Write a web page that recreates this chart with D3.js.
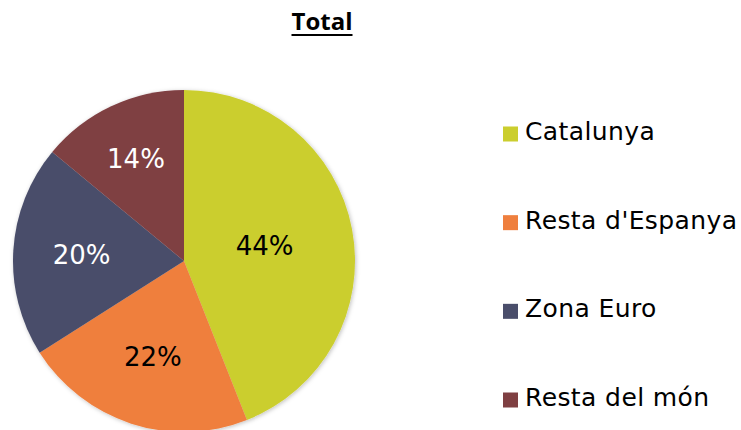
<!DOCTYPE html>
<html>
<head>
<meta charset="utf-8">
<script src="https://cdn.jsdelivr.net/npm/d3@7"></script>
<style>
  body { margin: 0; background: #fff; }
  svg { display: block; }
</style>
</head>
<body>
<div id="chart"></div>
<script>
// data
const categories = ["Catalunya", "Resta d'Espanya", "Zona Euro", "Resta del món"];
const values = [44, 22, 20, 14];
const colors = ["#CBCE2E", "#EF7F3E", "#4A4E6B", "#7F3F42"];
const labelColors = ["#000", "#000", "#fff", "#fff"];
// label distance from centre, as share of radius (excel "best fit")
const labelRadius = [0.48, 0.59, 0.6, 0.66];

const w = 741, h = 430;
const cx = 184, cy = 261, r = 171;

const svg = d3.select("#chart").append("svg")
    .attr("width", w)
    .attr("height", h);

// soft shadow under the pie
const defs = svg.append("defs");
const f = defs.append("filter").attr("id", "shadow")
    .attr("x", "-10%").attr("y", "-10%").attr("width", "120%").attr("height", "120%");
f.append("feDropShadow")
    .attr("dx", 1).attr("dy", 1).attr("stdDeviation", 2)
    .attr("flood-color", "#000").attr("flood-opacity", 0.25);

// title
const title = svg.append("text")
    .attr("x", 322).attr("y", 30)
    .attr("text-anchor", "middle")
    .attr("font-family", "'Open Sans', sans-serif")
    .attr("font-weight", "bold")
    .attr("font-size", 24)
    .attr("fill", "#000")
    .text("Total");
const tb = title.node().getBBox();
svg.append("rect")
    .attr("x", tb.x).attr("y", 34)
    .attr("width", tb.width).attr("height", 2)
    .attr("fill", "#000");

const pie = d3.pie().sort(null).value(d => d);
const arc = d3.arc().innerRadius(0).outerRadius(r);
const arcs = pie(values);

const g = svg.append("g")
    .attr("transform", `translate(${cx},${cy})`);

g.append("g").attr("filter", "url(#shadow)")
  .selectAll("path")
  .data(arcs)
  .join("path")
    .attr("d", arc)
    .attr("fill", (d, i) => colors[i]);

// slice labels
g.selectAll("text.lbl")
  .data(arcs)
  .join("text")
    .attr("class", "lbl")
    .attr("transform", (d, i) => {
        const rr = r * labelRadius[i];
        return `translate(${d3.arc().innerRadius(rr).outerRadius(rr).centroid(d)})`;
    })
    .attr("text-anchor", "middle")
    .attr("dy", "0.36em")
    .attr("font-family", "'DejaVu Sans', sans-serif")
    .attr("font-size", 26)
    .attr("fill", (d, i) => labelColors[i])
    .text(d => d.data + "%");

// legend
const ly = d3.scalePoint().domain(categories).range([134, 400]);
const legend = svg.append("g").selectAll("g")
  .data(categories)
  .join("g")
    .attr("transform", d => `translate(503,${ly(d)})`);

legend.append("rect")
    .attr("x", 0).attr("y", -7.5)
    .attr("width", 15).attr("height", 15)
    .attr("fill", (d, i) => colors[i]);

legend.append("text")
    .attr("x", 22).attr("y", 6)
    .attr("font-family", "'DejaVu Sans', sans-serif")
    .attr("font-size", 25)
    .attr("letter-spacing", 0.4)
    .attr("fill", "#000")
    .text(d => d);
</script>
</body>
</html>
